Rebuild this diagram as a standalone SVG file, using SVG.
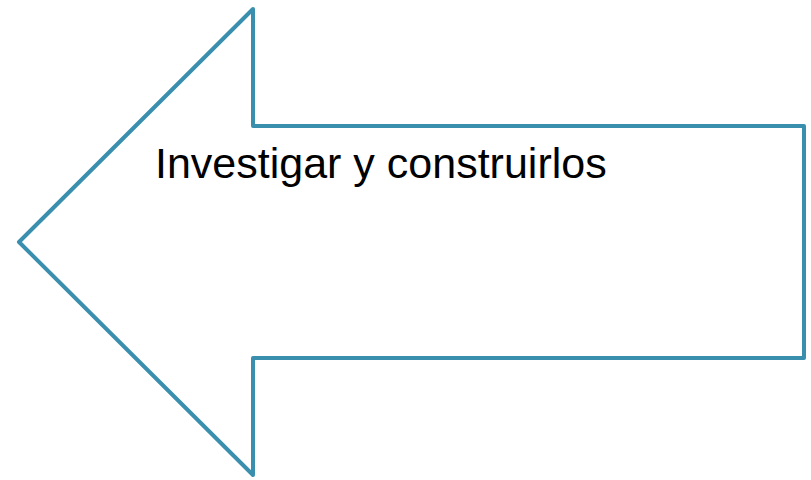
<svg xmlns="http://www.w3.org/2000/svg" width="811" height="480" viewBox="0 0 811 480">
<style>
.arrow{fill:#ffffff;stroke:#3a8fae;stroke-width:4;stroke-linejoin:round}
.lbl{font-family:"Liberation Sans",Arial,sans-serif;font-size:43px;fill:#000000}
</style>
<rect width="811" height="480" fill="#ffffff"/>
<g id="arrow-node">
<path class="arrow" d="M19,242 L253,9 L253,126 L804,126 L804,358 L253,358 L253,475 Z"/>
<text class="lbl" x="155" y="178">Investigar y construirlos</text>
</g>
</svg>
